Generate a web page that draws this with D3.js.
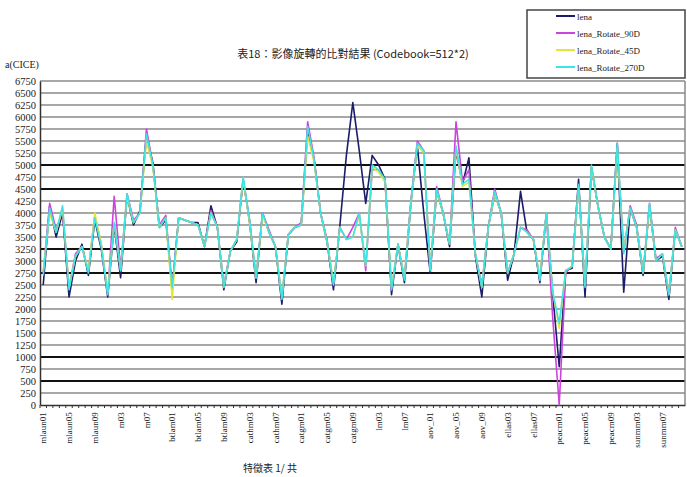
<!DOCTYPE html>
<html><head><meta charset="utf-8">
<script src="https://cdn.jsdelivr.net/npm/d3@7"></script>
<style>body{margin:0;background:#fff}svg{display:block}</style>
</head><body>
<svg id="c" width="687" height="477"></svg>
<script>
const groups = ["mlaun","m","btlam","cathm","catgm","lm","aov_","ellas","peacm","sunmm"];
const seriesNames = ["lena","lena_Rotate_90D","lena_Rotate_45D","lena_Rotate_270D"];
const seriesColors = ["#1c1c6a","#cc44dd","#e6e63a","#3fe3e3"];
const yTicks = [0,250,500,750,1000,1250,1500,1750,2000,2250,2500,2750,3000,3250,3500,3750,4000,4250,4500,4750,5000,5250,5500,5750,6000,6250,6500,6750];
const darkGrid = [500,1000,2750,3250,4500,5000];
const title = "表18：影像旋轉的比對結果 (Codebook=512*2)";
const yTitle = "a(CICE)";
const xTitle = "特徵表 1/ 共";

const lena = [2500,4150,3500,4000,2250,3000,3350,2700,3850,3250,2250,3750,2650,4350,3750,4050,5600,5050,3700,3850,2400,3900,3850,3800,3800,3300,4150,3700,2400,3200,3400,4700,3800,2550,4000,3600,3300,2100,3550,3700,3750,5700,5100,4000,3400,2400,3750,5200,6300,5300,4200,5200,5000,4700,2300,3350,2550,4200,5400,4000,2750,4450,4000,3300,5300,4600,5150,3100,2250,3700,4400,4000,2600,3150,4450,3600,3450,2550,4000,2300,800,2800,2850,4700,2250,4950,4150,3500,3250,5450,2350,4100,3700,2700,4150,3000,3100,2200,3650,3300];
const rot90 = [2750,4200,3650,4050,2450,3150,3300,2800,3950,3350,2300,4350,2850,4400,3850,4000,5750,5000,3750,3950,2450,3900,3850,3800,3750,3300,4050,3700,2500,3200,3450,4700,3850,2650,4000,3650,3300,2250,3550,3700,3800,5900,5150,4000,3450,2500,3700,3450,3700,4000,2800,4900,4900,4650,2400,3350,2650,4250,5500,5300,2800,4550,4000,3350,5900,4650,4900,3150,2500,3700,4500,4000,2750,3150,3700,3650,3450,2600,4000,1800,0,2750,2900,4550,2500,4950,4150,3500,3250,5400,3200,4150,3750,2750,4200,3050,3150,2300,3700,3300];
const rot45 = [2800,4000,3600,4100,2450,3100,3300,2800,4000,3350,2350,3800,2800,4350,3800,4000,5500,4950,3700,3900,2200,3900,3850,3800,3750,3300,4000,3700,2450,3200,3450,4700,3800,2650,3950,3600,3300,2250,3550,3700,3750,5600,5050,4000,3400,2550,3700,3450,3500,3950,2900,4950,4850,4650,2450,3350,2650,4200,5400,5250,2850,4450,4000,3350,5350,4550,4650,3150,2450,3700,4400,4000,2750,3150,3700,3600,3450,2650,4000,2350,1600,2800,2900,4550,2500,4950,4150,3500,3250,5350,3200,4100,3700,2750,4150,3000,3150,2300,3650,3300];
const rot270 = [2700,4100,3600,4150,2400,3100,3300,2750,3900,3300,2300,3800,2800,4400,3800,4000,5650,5000,3700,3900,2450,3900,3850,3800,3750,3300,4000,3700,2450,3200,3450,4750,3850,2650,4000,3600,3300,2200,3550,3700,3750,5800,5100,4000,3400,2500,3700,3450,3500,4000,2900,5000,4900,4700,2400,3350,2600,4200,5450,5300,2800,4500,4000,3350,5400,4600,4700,3150,2450,3700,4450,4000,2750,3150,3700,3600,3450,2600,4000,2350,1700,2800,2880,4600,2450,5000,4150,3500,3250,5450,3150,4100,3700,2750,4200,3000,3150,2300,3650,3300];
const seriesData = [lena, rot90, rot45, rot270];

const categories = [];
groups.forEach(g => { for (let k = 1; k <= 10; k++) categories.push(g + String(k).padStart(2, "0")); });

const svg = d3.select("#c");
const L = 40, R = 685, T = 81, B = 405;
const x = d3.scaleBand().domain(categories).range([L, R]);
const y = d3.scaleLinear().domain([0, 6750]).range([B, T]);
const serif = "'Liberation Serif','DejaVu Serif',serif";

// gridlines
svg.append("g").selectAll("line").data(yTicks.filter(v => v > 0)).join("line")
  .attr("x1", L).attr("x2", R).attr("y1", d => y(d)).attr("y2", d => y(d))
  .attr("stroke", d => darkGrid.includes(d) ? "#111" : "#8a8a8a")
  .attr("stroke-width", d => darkGrid.includes(d) ? 2 : 1.6);

// right border
svg.append("line").attr("x1", R).attr("x2", R).attr("y1", T).attr("y2", B).attr("stroke", "#888").attr("stroke-width", 1.5);

// y axis
const yAxis = d3.axisLeft(y).tickValues(yTicks).tickFormat(d3.format("d")).tickSize(0).tickPadding(4);
const gy = svg.append("g").attr("transform", `translate(${L},0)`).call(yAxis);
gy.select(".domain").attr("stroke", "#333").attr("stroke-width", 1.5);
gy.selectAll("text").attr("font-family", serif).attr("font-size", 10.5).attr("fill", "#222");

// x axis
const labelCats = categories.filter((d, i) => i % 4 === 0);
const xAxis = d3.axisBottom(x).tickValues(labelCats).tickSize(0).tickPadding(5);
const gx = svg.append("g").attr("transform", `translate(0,${B})`).call(xAxis);
gx.select(".domain").attr("stroke", "#333").attr("stroke-width", 1.5);
gx.selectAll("text").attr("font-family", serif).attr("font-size", 9).attr("fill", "#222")
  .attr("transform", "rotate(-90)").attr("text-anchor", "end").attr("dx", "-0.8em").attr("dy", "-0.2em");
// tick dots at category boundaries
svg.append("g").selectAll("line").data(categories).join("line")
  .attr("x1", d => x(d)).attr("x2", d => x(d)).attr("y1", B).attr("y2", B + 3)
  .attr("stroke", "#333").attr("stroke-width", 1);

// lines
const line = d3.line().x((d, i) => x(categories[i]) + x.bandwidth() / 2).y(d => y(d));
svg.append("g").selectAll("path").data(seriesData).join("path")
  .attr("d", d => line(d)).attr("fill", "none")
  .attr("stroke", (d, i) => seriesColors[i]).attr("stroke-width", 1.6).attr("stroke-linejoin", "round");

// titles
svg.append("text").attr("x", 353).attr("y", 58).attr("text-anchor", "middle")
  .attr("font-family", "'Noto Sans CJK TC',serif").attr("font-size", 11).attr("fill", "#222").text(title);
svg.append("text").attr("x", 5).attr("y", 68).attr("font-family", serif).attr("font-size", 10).attr("fill", "#222").text(yTitle);
svg.append("text").attr("x", 243).attr("y", 472).attr("font-family", "'Noto Sans CJK TC',serif").attr("font-size", 10).attr("fill", "#222").text(xTitle);

// legend
const lg = svg.append("g");
lg.append("rect").attr("x", 527).attr("y", 10).attr("width", 158).attr("height", 68)
  .attr("fill", "#fff").attr("stroke", "#444").attr("stroke-width", 1.5);
const items = lg.selectAll("g.it").data(seriesNames).join("g").attr("class", "it")
  .attr("transform", (d, i) => `translate(0,${16 + i * 17})`);
items.append("line").attr("x1", 556).attr("x2", 575).attr("y1", 0).attr("y2", 0)
  .attr("stroke", (d, i) => seriesColors[i]).attr("stroke-width", 2);
items.append("text").attr("x", 577).attr("y", 3.5).attr("font-family", serif).attr("font-size", 9).attr("fill", "#222").text(d => d);
</script>
</body></html>
